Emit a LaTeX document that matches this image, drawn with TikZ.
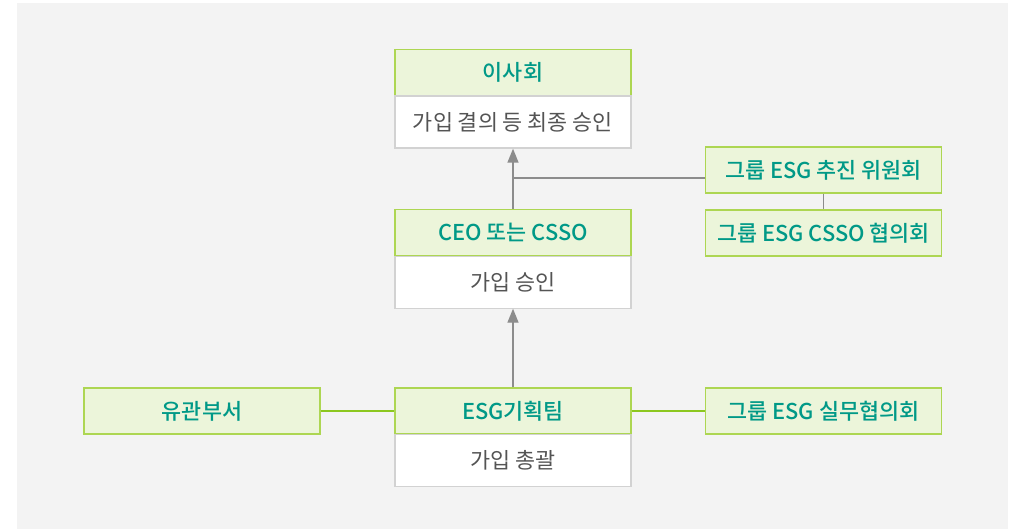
\documentclass[tikz,border=0pt]{standalone}
\usepackage{fontspec}
\setmainfont{Noto Sans CJK KR}[BoldFont={Noto Sans CJK KR Medium}]
\usepackage{xcolor}
\definecolor{panel}{rgb}{0.953,0.953,0.953}
\definecolor{headfill}{rgb}{0.925,0.961,0.855}
\definecolor{headline}{rgb}{0.68,0.84,0.32}
\definecolor{headtext}{rgb}{0.0,0.60,0.53}
\definecolor{bodytext}{rgb}{0.33,0.33,0.33}
\definecolor{linkgray}{rgb}{0.55,0.55,0.55}
\definecolor{linkgreen}{rgb}{0.55,0.78,0.12}
\usetikzlibrary{arrows.meta}
\usetikzlibrary{positioning}

\begin{document}
\begin{tikzpicture}[x=1pt, y=1pt,
    head/.style={draw=headline, fill=headfill, line width=1.2pt, minimum width=236pt, minimum height=46pt, inner sep=0pt, text=headtext, font=\fontsize{21.8}{24}\selectfont\bfseries},
    body/.style={draw=gray!35, fill=white, line width=1.2pt, minimum width=236pt, minimum height=52pt, inner sep=0pt, text=bodytext, font=\fontsize{21.8}{24}\selectfont},
    uplink/.style={draw=linkgray, line width=1.4pt, -{Triangle[width=11pt,length=14pt]}},
    graylink/.style={draw=linkgray, line width=1.2pt},
    greenlink/.style={draw=linkgreen, line width=1.2pt}]

    \useasboundingbox (0,0) rectangle (1016,-529);
    \fill[panel] (17,-3) rectangle (1008,-529);

    % main column
    \node[head] (board) at (513,-72.5) {이사회};
    \node[body, below=-0.6pt of board] (boardbody) {가입 결의 등 최종 승인};
    \node[head] (ceo) at (513,-232.5) {CEO 또는 CSSO};
    \node[body, below=-0.6pt of ceo] (ceobody) {가입 승인};
    \node[head] (plan) at (513,-411) {ESG기획팀};
    \node[body, below=-0.6pt of plan] (planbody) {가입 총괄};

    % side boxes
    \node[head] (committee) at (823.5,-170) {그룹 ESG 추진 위원회};
    \node[head] (council) at (823.5,-233) {그룹 ESG CSSO 협의회};
    \node[head] (dept) at (202,-411) {유관부서};
    \node[head] (working) at (823.5,-411) {그룹 ESG 실무협의회};

    \coordinate (tap) at (513,-178);
    \draw[graylink] (tap) -- (tap -| committee.west);
    \draw[graylink] (committee.south) -- (council.north);
    \draw[uplink] (ceo.north) -- (boardbody.south);
    \draw[uplink] (plan.north) -- (ceobody.south);
    \draw[greenlink] (dept.east) -- (plan.west);
    \draw[greenlink] (plan.east) -- (working.west);

\end{tikzpicture}
\end{document}
